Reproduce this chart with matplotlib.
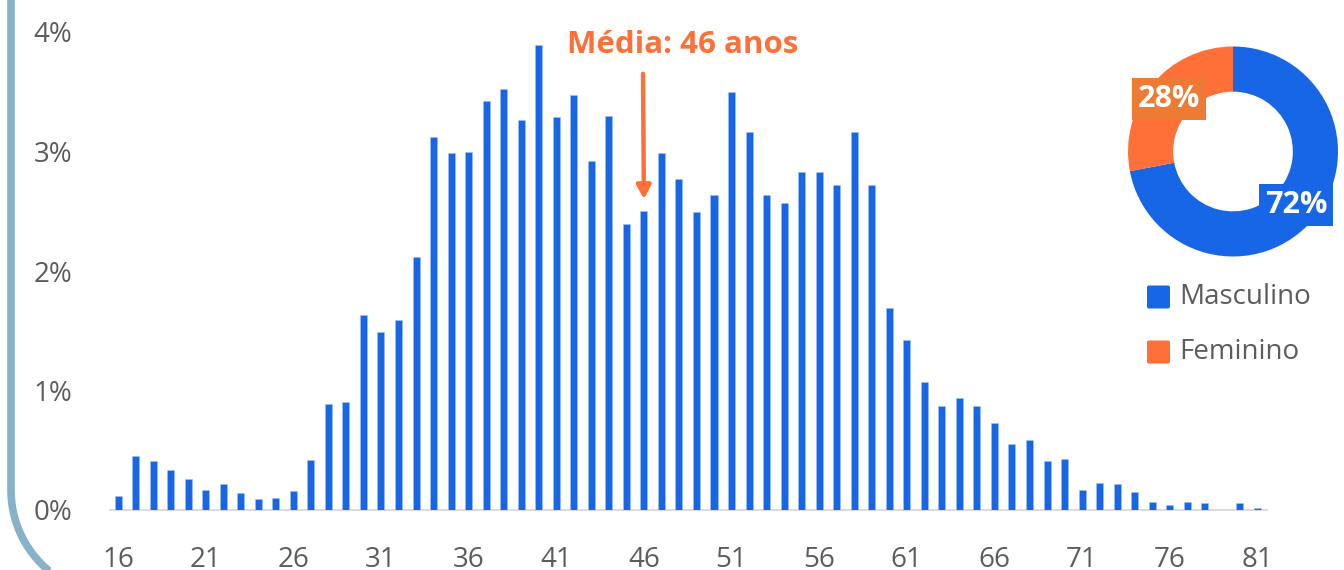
import matplotlib
matplotlib.use("Agg")
import matplotlib.pyplot as plt
import numpy as np
from matplotlib.patches import FancyBboxPatch

plt.rcParams['font.family'] = ['Open Sans', 'DejaVu Sans']

# ---- data ----
ages = list(range(16, 82))
pct = [0.12, 0.45, 0.41, 0.335, 0.26, 0.17, 0.22, 0.14, 0.09, 0.10,
       0.16, 0.42, 0.89, 0.90, 1.63, 1.49, 1.59, 2.12, 3.12, 2.985,
       3.00, 3.42, 3.52, 3.26, 3.89, 3.29, 3.47, 2.92, 3.30, 2.39,
       2.50, 2.99, 2.77, 2.49, 2.64, 3.50, 3.16, 2.64, 2.57, 2.83,
       2.83, 2.72, 3.16, 2.72, 1.69, 1.42, 1.07, 0.87, 0.94, 0.87,
       0.725, 0.55, 0.585, 0.41, 0.43, 0.17, 0.23, 0.22, 0.15, 0.07,
       0.04, 0.07, 0.055, 0.0, 0.055, 0.02]
xticks = list(range(16, 82, 5))
yticks = [0, 1, 2, 3, 4]
ytick_labels = ["0%", "1%", "2%", "3%", "4%"]
gender_labels = ["Masculino", "Feminino"]
gender_share = [72, 28]
mean_age = 46
mean_label = "Média: 46 anos"

BLUE = "#1766E5"
ORANGE = "#FF6F38"
LABEL_ORANGE = "#EE7B33"
GRAY = "#5c5c5c"
W, H = 1344, 570

fig = plt.figure(figsize=(W / 100, H / 100), dpi=100)

# background overlay in pixel coordinates (card frame)
ov = fig.add_axes([0, 0, 1, 1], zorder=0)
ov.set_xlim(0, W)
ov.set_ylim(H, 0)
ov.axis("off")
r = 105
x0, ybot = 11, 595
th = np.linspace(np.pi, np.pi / 2, 60)
arc_x = (x0 + r) + r * np.cos(th)
arc_y = (ybot - r) + r * np.sin(th)
fx = np.concatenate([[x0], arc_x, [W + 50]])
fy = np.concatenate([[-20], arc_y, [ybot]])
ov.plot(fx, fy, color="#87B2C9", lw=5.5, solid_capstyle="butt", clip_on=False)

# main bar chart
ax = fig.add_axes([110 / W, (H - 510) / H, (1267 - 110) / W, (510 - 32) / H], zorder=2)
ax.patch.set_alpha(0)
ax.bar(ages, pct, width=0.4, color=BLUE, edgecolor="#9fc0f5", linewidth=0.4, zorder=3)
ax.set_xlim(15.54, 81.55)
ax.set_ylim(0, 4)
for s in ["top", "right", "left"]:
    ax.spines[s].set_visible(False)
ax.spines["bottom"].set_color("#d5d5d5")
ax.spines["bottom"].set_linewidth(1.2)
ax.set_yticks(yticks)
ax.set_yticklabels(ytick_labels)
ax.set_xticks(xticks)
ax.set_xticklabels([str(t) for t in xticks])
ax.tick_params(axis="both", length=0, labelsize=20, colors=GRAY)
ax.tick_params(axis="y", pad=27)
ax.tick_params(axis="x", pad=26)

# mean annotation
ax.annotate(mean_label, xy=(mean_age, 3.2), xytext=(mean_age + 2.2, 3.89),
            ha="center", va="center", fontsize=22.5, fontweight="bold", color=ORANGE)
ax.annotate("", xy=(mean_age, 2.6), xytext=(mean_age - 0.05, 3.65),
            arrowprops=dict(arrowstyle="-|>,head_length=0.8,head_width=0.42",
                            color=ORANGE, lw=3.2, shrinkA=0, shrinkB=0))

# donut
pax = fig.add_axes([1128 / W, (H - 256.5) / H, 210 / W, 210 / H], zorder=3)
pax.pie(gender_share, colors=[BLUE, ORANGE], startangle=90, counterclock=False,
        radius=1, wedgeprops=dict(width=0.43, edgecolor="none"))
pax.set_xlim(-1, 1)
pax.set_ylim(-1, 1)
pax.set_aspect("equal")
pax.axis("off")

# percentage labels on top
top = fig.add_axes([0, 0, 1, 1], zorder=4)
top.set_xlim(0, W)
top.set_ylim(H, 0)
top.axis("off")
top.text(1169, 99, f"{gender_share[1]}%", ha="center", va="center", fontsize=22,
         fontweight="bold", color="white",
         bbox=dict(boxstyle="square,pad=0.2", fc=LABEL_ORANGE, ec="none"))
top.text(1296, 205, f"{gender_share[0]}%", ha="center", va="center", fontsize=22,
         fontweight="bold", color="white",
         bbox=dict(boxstyle="square,pad=0.2", fc=BLUE, ec="none"))

# legend
for i, (lab, col) in enumerate(zip(gender_labels, [BLUE, ORANGE])):
    yc = 297 + i * 55
    top.add_patch(FancyBboxPatch((1147, yc - 11.5), 23, 23,
                                 boxstyle="round,pad=0,rounding_size=2",
                                 fc=col, ec="none"))
    top.text(1179, yc, lab, ha="left", va="center", fontsize=20, color=GRAY)

fig.savefig("out.png", dpi=100)
